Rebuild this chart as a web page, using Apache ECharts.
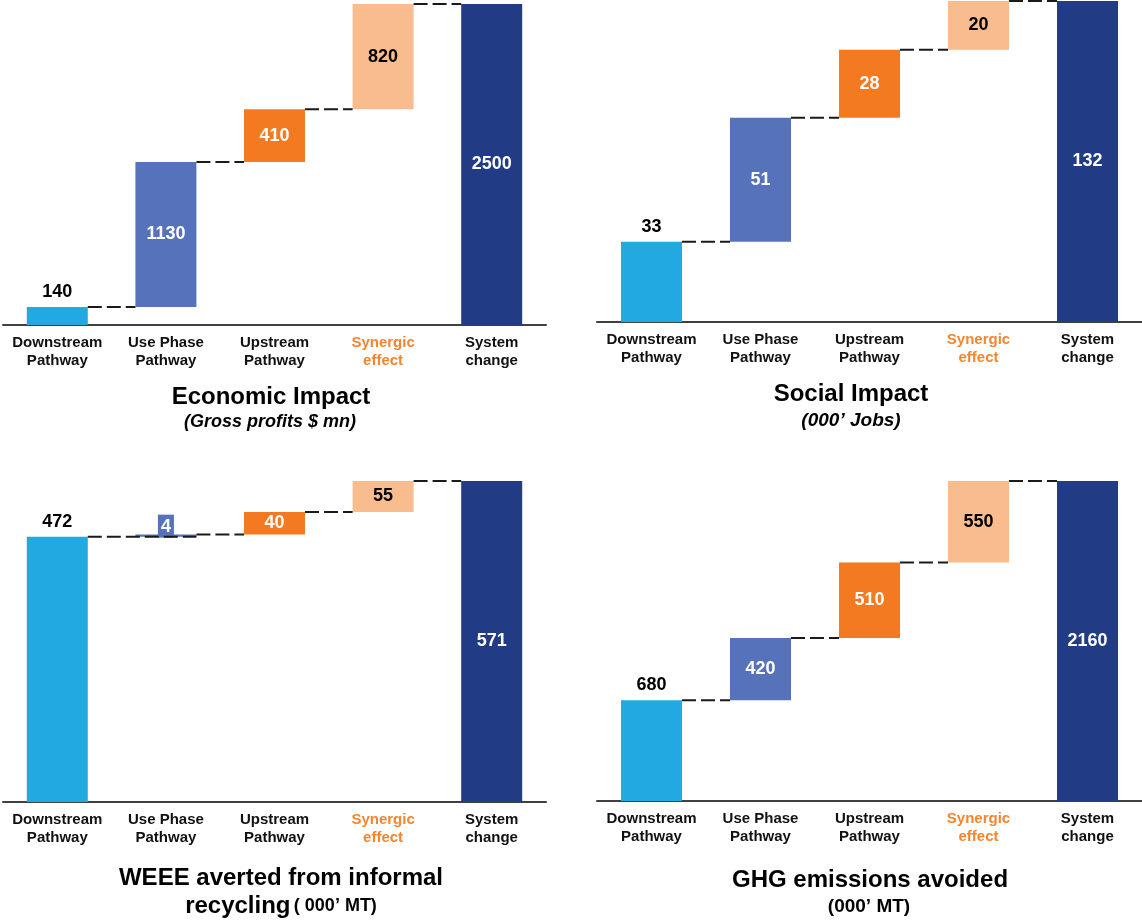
<!DOCTYPE html>
<html>
<head>
<meta charset="utf-8">
<script src="https://cdn.jsdelivr.net/npm/echarts@6/dist/echarts.min.js"></script>
<style>
html,body{margin:0;padding:0;background:#fff;}
#chart{width:1142px;height:921px;}
</style>
</head>
<body>
<div id="chart"></div>
<script>
// ---- Data ----
const categories = ['Downstream\nPathway', 'Use Phase\nPathway', 'Upstream\nPathway', 'Synergic\neffect', 'System\nchange'];
const economicValues = [140, 1130, 410, 820, 2500];
const socialValues = [33, 51, 28, 20, 132];
const weeeValues = [472, 4, 40, 55, 571];
const ghgValues = [680, 420, 510, 550, 2160];

const economicTitle = 'Economic Impact';
const economicSubtitle = '(Gross profits $ mn)';
const socialTitle = 'Social Impact';
const socialSubtitle = '(000\u2019 Jobs)';
const weeeTitle1 = 'WEEE averted from informal';
const weeeTitle2 = 'recycling';
const weeeSubtitle = '( 000\u2019 MT)';
const ghgTitle = 'GHG emissions avoided';
const ghgSubtitle = '(000\u2019 MT)';

// ---- Styles ----
const FONT = "'Liberation Sans', Arial, Helvetica, sans-serif";
const barColors = ['#22A9E1', '#5572BA', '#F47A22', '#F8BC8E', '#213B85'];
const labelColors = ['#000', '#fff', '#fff', '#000', '#fff'];
const synergicColor = '#F5852F';
const BAR_W = 61;

const panels = [
  { values: economicValues, grid: { left: 3, top: 4, width: 543, height: 321 } },
  { values: socialValues, grid: { left: 597, top: 1, width: 545, height: 321 } },
  { values: weeeValues, grid: { left: 3, top: 481, width: 543, height: 321 } },
  { values: ghgValues, grid: { left: 597, top: 481, width: 545, height: 320 } }
];

const grids = [], xAxes = [], yAxes = [], series = [];

panels.forEach((p, k) => {
  const vals = p.values;
  const n = vals.length;
  const total = vals[n - 1];
  const isSmall = vals.map((v, i) => i > 0 && i < n - 1 && v / total < 0.03);
  const bases = [];
  let run = 0;
  for (let i = 0; i < n; i++) {
    if (i === n - 1) { bases.push(0); }
    else { bases.push(run); run += vals[i]; }
  }
  grids.push(Object.assign({ containLabel: false }, p.grid));
  xAxes.push({
    type: 'category', gridIndex: k,
    data: categories.map((c, i) => i === 3 ? { value: c, textStyle: { color: synergicColor } } : c),
    axisLine: { show: true, lineStyle: { color: '#404040', width: 2 } },
    axisTick: { show: false },
    axisLabel: { interval: 0, margin: 9, color: '#111', fontFamily: FONT, fontWeight: 'bold', fontSize: 15, lineHeight: 18 },
    splitLine: { show: false }
  });
  yAxes.push({ type: 'value', gridIndex: k, min: 0, max: total, show: false, splitLine: { show: false } });
  series.push({
    type: 'bar', xAxisIndex: k, yAxisIndex: k, stack: 's' + k, barWidth: BAR_W,
    itemStyle: { color: 'transparent' }, silent: true,
    data: bases
  });
  series.push({
    type: 'bar', xAxisIndex: k, yAxisIndex: k, stack: 's' + k, barWidth: BAR_W,
    data: vals.map((v, i) => {
      let label;
      if (i === 0) {
        label = { show: true, position: 'top', distance: 6, color: '#000' };
      } else if (isSmall[i]) {
        label = { show: true, position: 'insideBottom', distance: -1, color: '#fff', backgroundColor: barColors[i], padding: [3, 3, 2, 3] };
      } else {
        label = { show: true, position: 'inside', color: labelColors[i] };
      }
      label.fontFamily = FONT; label.fontWeight = 'bold'; label.fontSize = 18;
      return { value: v, itemStyle: { color: barColors[i] }, label: label };
    }),
    z: 3
  });
  const conn = [];
  run = 0;
  for (let i = 0; i < n - 1; i++) { run += vals[i]; conn.push([i, run, isSmall[i + 1] ? 1 : 0]); }
  series.push({
    type: 'custom', xAxisIndex: k, yAxisIndex: k, z: 5, silent: true,
    data: conn,
    renderItem: function (params, api) {
      const x = api.value(0), y = api.value(1), over = api.value(2);
      const p1 = api.coord([x, y]);
      const p2 = api.coord([x + 1, y]);
      const x2 = over ? p2[0] + BAR_W / 2 : p2[0] - BAR_W / 2;
      return {
        type: 'line',
        shape: { x1: p1[0] + BAR_W / 2, y1: p1[1], x2: x2, y2: p1[1] },
        style: { stroke: '#1a1a1a', lineWidth: 2, lineDash: [14, 5] }
      };
    }
  });
});

const titleFont = 'bold 24px ' + FONT;
const graphics = [
  { type: 'text', x: 271, y: 397, style: { text: economicTitle, font: titleFont, fill: '#000', textAlign: 'center', textVerticalAlign: 'middle' } },
  { type: 'text', x: 270, y: 422, style: { text: economicSubtitle, font: 'italic bold 18px ' + FONT, fill: '#000', textAlign: 'center', textVerticalAlign: 'middle' } },
  { type: 'text', x: 851, y: 394, style: { text: socialTitle, font: titleFont, fill: '#000', textAlign: 'center', textVerticalAlign: 'middle' } },
  { type: 'text', x: 851, y: 421, style: { text: socialSubtitle, font: 'italic bold 19px ' + FONT, fill: '#000', textAlign: 'center', textVerticalAlign: 'middle' } },
  { type: 'text', x: 281, y: 878, style: { text: weeeTitle1, font: titleFont, fill: '#000', textAlign: 'center', textVerticalAlign: 'middle' } },
  { type: 'text', x: 281, y: 906, style: {
      text: '{a|' + weeeTitle2 + '} {b|' + weeeSubtitle + '}',
      textAlign: 'center', textVerticalAlign: 'middle',
      rich: {
        a: { fontFamily: FONT, fontWeight: 'bold', fontSize: 24, fill: '#000', color: '#000' },
        b: { fontFamily: FONT, fontWeight: 'bold', fontSize: 18, fill: '#000', color: '#000' }
      }
  } },
  { type: 'text', x: 870, y: 880, style: { text: ghgTitle, font: titleFont, fill: '#000', textAlign: 'center', textVerticalAlign: 'middle' } },
  { type: 'text', x: 869, y: 907, style: { text: ghgSubtitle, font: 'bold 19px ' + FONT, fill: '#000', textAlign: 'center', textVerticalAlign: 'middle' } }
];

const chart = echarts.init(document.getElementById('chart'), null, { renderer: 'canvas' });
chart.setOption({
  animation: false,
  backgroundColor: '#fff',
  grid: grids,
  xAxis: xAxes,
  yAxis: yAxes,
  series: series,
  graphic: graphics
});
</script>
</body>
</html>
